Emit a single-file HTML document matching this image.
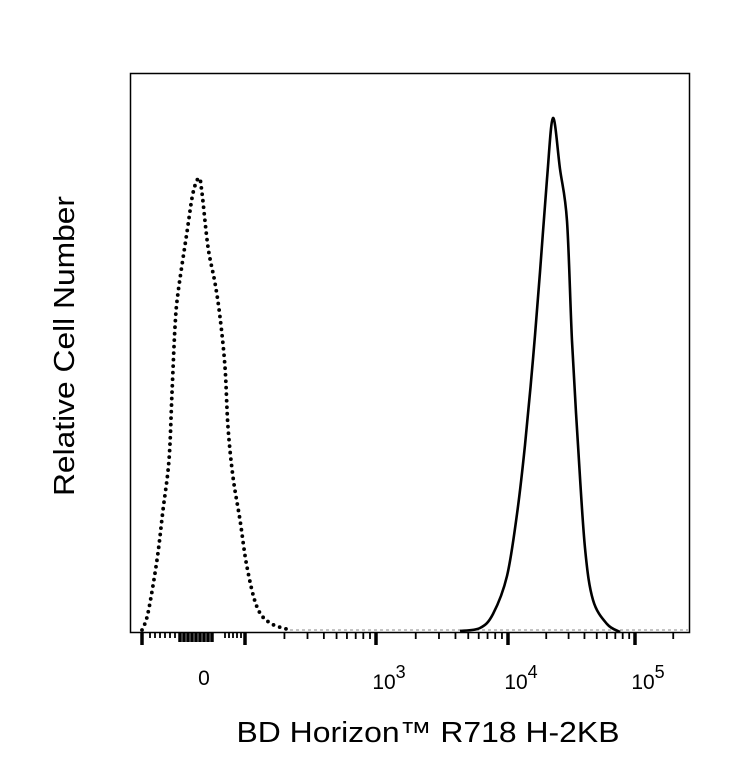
<!DOCTYPE html>
<html><head><style>
html,body{margin:0;padding:0;background:#fff;}
svg{display:block;}
text{font-family:"Liberation Sans",Arial,sans-serif;fill:#000;}
</style></head><body>
<svg width="733" height="783" viewBox="0 0 733 783" xmlns="http://www.w3.org/2000/svg">
<rect x="130.5" y="73.5" width="559" height="559" fill="none" stroke="#000" stroke-width="1.5"/>
<line x1="290" y1="630" x2="688" y2="630" stroke="#888" stroke-width="1" stroke-dasharray="3 3"/>
<path id="dot" fill="none" stroke="#000" stroke-width="3.8" stroke-linecap="round" stroke-dasharray="0 6.5"/>
<path id="sol" fill="none" stroke="#000" stroke-width="2.6" stroke-linejoin="round"/>
<g stroke="#000" id="ticks"></g>
<text x="204" y="685" font-size="21" text-anchor="middle">0</text>
<text x="389" y="689" font-size="21" text-anchor="middle">10<tspan dy="-11" font-size="18">3</tspan></text>
<text x="521" y="689" font-size="21" text-anchor="middle">10<tspan dy="-11" font-size="18">4</tspan></text>
<text x="648" y="689" font-size="21" text-anchor="middle">10<tspan dy="-11" font-size="18">5</tspan></text>
<text x="428" y="742" font-size="29" text-anchor="middle" textLength="383" lengthAdjust="spacingAndGlyphs">BD Horizon™ R718 H-2KB</text>
<text transform="translate(74,346) rotate(-90)" font-size="29" text-anchor="middle" textLength="300" lengthAdjust="spacingAndGlyphs">Relative Cell Number</text>
</svg>
<script>
function cr(p){var d='M'+p[0][0]+','+p[0][1];for(var i=0;i<p.length-1;i++){var p0=p[i-1]||p[i],p1=p[i],p2=p[i+1],p3=p[i+2]||p2;
d+=' C'+(p1[0]+(p2[0]-p0[0])/6)+','+(p1[1]+(p2[1]-p0[1])/6)+' '+(p2[0]-(p3[0]-p1[0])/6)+','+(p2[1]-(p3[1]-p1[1])/6)+' '+p2[0]+','+p2[1];}return d;}
document.getElementById('dot').setAttribute('d',cr([[142,630],[148,613],[157,560],[163,510],[169,460],[172,393],[175,327],[178,293],[187,232],[193,193],[199,178],[202,193],[208,247],[215,283],[220,317],[225,367],[228,427],[233,477],[240,520],[247,567],[257,607],[270,623],[290,630]]));
document.getElementById('sol').setAttribute('d',cr([[460,631],[480,628],[493,614],[507,576],[517,514],[525,445],[533,359],[540,272],[547,179],[553,118],[560,169],[567,221],[572,341],[578,445],[585,548],[593,600],[607,624],[620,632]]));
var g=document.getElementById('ticks'),ns='http://www.w3.org/2000/svg';
function t(x,len,w){var l=document.createElementNS(ns,'line');l.setAttribute('x1',x);l.setAttribute('x2',x);l.setAttribute('y1',632);l.setAttribute('y2',632+len);l.setAttribute('stroke-width',w||1.8);g.appendChild(l);}
[142,245,376,508,635].forEach(function(x){t(x,13,3.5);});
var dec=[[245,131],[376,132],[508,127],[635,127]];
dec.forEach(function(d){for(var k=2;k<=9;k++){var x=d[0]+d[1]*Math.log10(k);if(x<688)t(x,7);}});
[150,155,160,165,170,175,225,229,233,237,241].forEach(function(x){t(x,6);});
[180,184,188,192,196,200,204,208,212].forEach(function(x){t(x,10,3.5);});
</script>
</body></html>
